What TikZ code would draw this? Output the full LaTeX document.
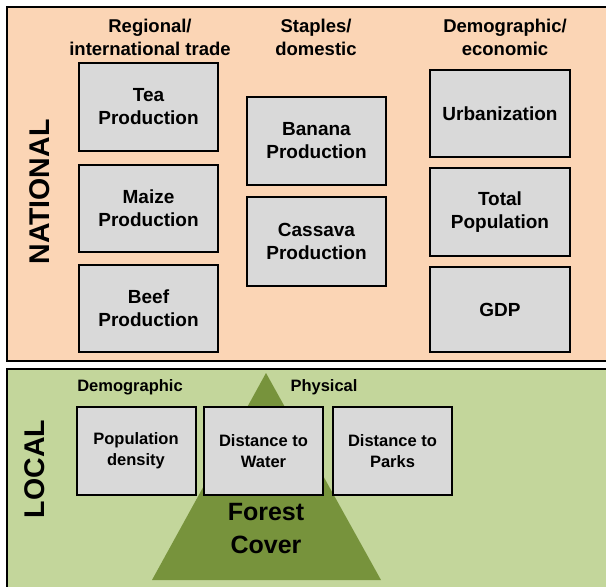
\documentclass[tikz,border=0pt]{standalone}
\usepackage{fontspec}
\setmainfont{Liberation Sans}
\definecolor{peach}{HTML}{FBD5B5}
\definecolor{lgreen}{HTML}{C3D69B}
\definecolor{dgreen}{HTML}{77933C}
\definecolor{boxgray}{HTML}{D9D9D9}
\begin{document}
\begin{tikzpicture}[x=1pt,y=-1pt,
  panel/.style={draw=black,line width=2.2pt},
  vbox/.style={draw=black,line width=2pt,fill=boxgray,align=center,inner sep=0pt,
    font=\bfseries\fontsize{19}{23}\selectfont},
  lbox/.style={draw=black,line width=2pt,fill=boxgray,align=center,inner sep=0pt,
    minimum width=119pt,minimum height=88pt,font=\bfseries\fontsize{16.5}{21}\selectfont},
  thead/.style={align=center,inner sep=0pt,font=\bfseries\fontsize{18.5}{23}\selectfont},
  bhead/.style={align=center,inner sep=0pt,font=\bfseries\fontsize{16.5}{20}\selectfont},
  side/.style={rotate=90,inner sep=0pt,font=\bfseries\fontsize{28.5}{30}\selectfont}]
\useasboundingbox (0,0) rectangle (606,587);
\clip (0,0) rectangle (606,587);
\fill[white] (0,0) rectangle (606,587);
% panels
\draw[panel,fill=peach] (7,7) rectangle (614,361);
\draw[panel,fill=lgreen] (7,369) rectangle (614,595);
% triangle
\fill[dgreen] (266,373) -- (381,580) -- (152,580) -- cycle;
% national headers
\node[thead] (h1) at (150,37) {Regional/\\international trade};
\node[thead] (h2) at (316,37) {Staples/\\domestic};
\node[thead] (h3) at (505,37) {Demographic/\\economic};
\node[side] (nat) at (40,192) {NATIONAL};
% national boxes
\node[vbox,minimum width=139pt,minimum height=88pt] (tea) at (148.5,107) {Tea\\Production};
\node[vbox,minimum width=139pt,minimum height=87pt] (maize) at (148.5,208.5) {Maize\\Production};
\node[vbox,minimum width=139pt,minimum height=87pt] (beef) at (148.5,308.5) {Beef\\Production};
\node[vbox,minimum width=139pt,minimum height=88pt] (banana) at (316.5,141) {Banana\\Production};
\node[vbox,minimum width=139pt,minimum height=89pt] (cassava) at (316.5,241.5) {Cassava\\Production};
\node[vbox,minimum width=140pt,minimum height=87pt] (urban) at (500,113.5) {Urbanization};
\node[vbox,minimum width=140pt,minimum height=88pt] (totpop) at (500,212) {Total\\Population};
\node[vbox,minimum width=140pt,minimum height=85pt] (gdp) at (500,309.5) {GDP};
% local
\node[bhead] (h4) at (130,387) {Demographic};
\node[bhead] (h5) at (324,387) {Physical};
\node[side] (loc) at (35,469) {LOCAL};
\node[lbox] (popd) at (136,451) {Population\\density};
\node[lbox] (water) at (263.5,451) {Distance to\\Water};
\node[lbox] (parks) at (392.5,451) {Distance to\\Parks};
\node[align=center,inner sep=0pt,font=\bfseries\fontsize{25}{33}\selectfont] (forest) at (266,529) {Forest\\Cover};
\end{tikzpicture}
\end{document}
